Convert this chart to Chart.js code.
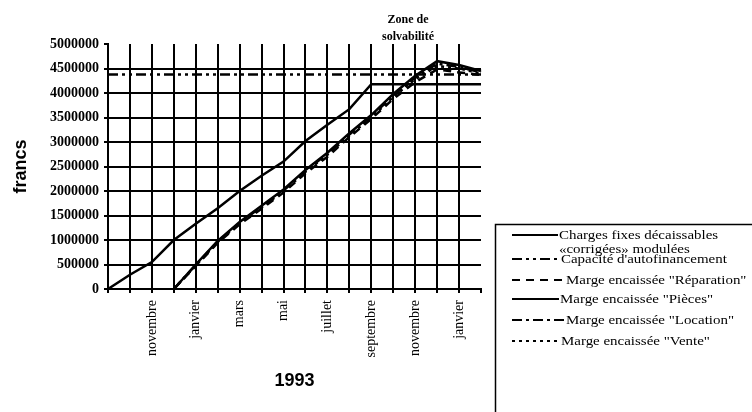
<!DOCTYPE html>
<html lang="fr">
<head>
<meta charset="utf-8">
<title>Zone de solvabilité - 1993</title>
<script src="https://cdn.jsdelivr.net/npm/chart.js@4/dist/chart.umd.min.js"></script>
<style>
  html, body { margin: 0; padding: 0; background: #fff; }
  #wrap { width: 752px; height: 412px; position: relative; }
</style>
</head>
<body>
<div id="wrap"><canvas id="chart" width="752" height="412"></canvas></div>
<script>
/* =========================================================
   Seuil de solvabilité - cumuls mensuels (francs)
   septembre 1992 -> février 1994
========================================================= */

const months = [
  "septembre", "octobre", "novembre", "décembre", "janvier", "février",
  "mars", "avril", "mai", "juin", "juillet", "août",
  "septembre", "octobre", "novembre", "décembre", "janvier", "février"
];

// only every other month is labelled on the axis
const monthTicks = [
  "", "", "novembre", "", "janvier", "", "mars", "", "mai", "",
  "juillet", "", "septembre", "", "novembre", "", "janvier", ""
];

const yMin = 0;
const yMax = 5000000;
const yStep = 500000;

const chargesFixes = [
  0, 290000, 550000, 1000000, 1330000, 1650000, 2000000, 2310000, 2600000,
  3020000, 3350000, 3670000, 4180000, 4180000, 4180000, 4180000, 4180000, 4180000
];

const capaciteAutofinancement = [
  4380000, 4380000, 4380000, 4380000, 4380000, 4380000, 4380000, 4380000, 4380000,
  4380000, 4380000, 4380000, 4380000, 4380000, 4380000, 4380000, 4380000, 4380000
];

const margeReparation = [
  null, null, null, 0, 470000, 940000, 1320000, 1640000, 1970000,
  2360000, 2700000, 3100000, 3470000, 3880000, 4220000, 4480000, 4420000, 4370000
];

const margePieces = [
  null, null, null, 0, 500000, 980000, 1370000, 1700000, 2030000,
  2430000, 2780000, 3180000, 3550000, 3980000, 4350000, 4650000, 4570000, 4450000
];

const margeLocation = [
  null, null, null, 0, 490000, 970000, 1350000, 1680000, 2010000,
  2410000, 2760000, 3150000, 3520000, 3950000, 4310000, 4600000, 4530000, 4420000
];

const margeVente = [
  null, null, null, 0, 480000, 960000, 1340000, 1670000, 2000000,
  2390000, 2740000, 3130000, 3500000, 3920000, 4280000, 4550000, 4500000, 4400000
];

const seriesNames = [
  ["Charges fixes décaissables", "«corrigées» modulées"],
  ["Capacité d'autofinancement"],
  ["Marge encaissée \"Réparation\""],
  ["Marge encaissée \"Pièces\""],
  ["Marge encaissée \"Location\""],
  ["Marge encaissée \"Vente\""]
];

const zoneLabel = ["Zone de", "solvabilité"];

/* ---------- styles ---------- */

const INK = "#000";
const SERIF = "'Liberation Serif', 'Times New Roman', serif";
const SANS = "'Liberation Sans', Arial, sans-serif";

function serie(name, data, dash) {
  return {
    label: name.join(" "),
    data,
    borderColor: INK,
    backgroundColor: INK,
    borderWidth: 2.5,
    borderDash: dash,
    pointRadius: 0,
    tension: 0,
    fill: false
  };
}

// legend rows: sample line + text, laid out like the original boxed legend
const legendRows = [
  { y: 235, x1: 558, tx: 559, lines: [236, 250] },
  { y: 259, x1: 558, tx: 561, lines: [260] },
  { y: 280, x1: 565, tx: 566, lines: [281] },
  { y: 299, x1: 559, tx: 560, lines: [300] },
  { y: 320, x1: 565, tx: 566, lines: [321] },
  { y: 341, x1: 560, tx: 561, lines: [342] }
];

// the scanned legend text is wide for its height
function wideText(ctx, txt, x, y, stretch) {
  ctx.save();
  ctx.translate(x, y);
  ctx.scale(stretch, 1);
  ctx.fillText(txt, 0, 0);
  ctx.restore();
}

const boxedLegend = {
  id: "boxedLegend",
  afterDraw(chart) {
    const ctx = chart.ctx;
    ctx.save();

    ctx.strokeStyle = INK;
    ctx.lineWidth = 1.5;
    ctx.setLineDash([]);
    ctx.strokeRect(495.5, 224.5, 320, 250);

    ctx.font = "13px " + SERIF;
    ctx.fillStyle = INK;
    ctx.textAlign = "left";
    ctx.textBaseline = "middle";

    chart.data.datasets.forEach((ds, i) => {
      const row = legendRows[i];
      ctx.beginPath();
      ctx.lineWidth = 2;
      ctx.setLineDash(ds.borderDash || []);
      ctx.moveTo(512, row.y);
      ctx.lineTo(row.x1, row.y);
      ctx.stroke();
      ctx.setLineDash([]);
      seriesNames[i].forEach((txt, k) => wideText(ctx, txt, row.tx, row.lines[k], 1.15));
    });

    // annotation above the crossing
    ctx.font = "bold 12px " + SERIF;
    ctx.textAlign = "center";
    ctx.fillText(zoneLabel[0], 408, 20);
    ctx.fillText(zoneLabel[1], 408, 37);

    ctx.restore();
  }
};

/* ---------- chart ---------- */

new Chart(document.getElementById("chart"), {
  type: "line",
  data: {
    labels: months,
    datasets: [
      serie(seriesNames[0], chargesFixes, []),
      serie(seriesNames[1], capaciteAutofinancement, [10, 4, 3, 4, 3, 4]),
      serie(seriesNames[2], margeReparation, [8, 6]),
      serie(seriesNames[3], margePieces, []),
      serie(seriesNames[4], margeLocation, [10, 4, 3, 4]),
      serie(seriesNames[5], margeVente, [3, 4])
    ]
  },
  options: {
    responsive: false,
    animation: false,
    layout: { padding: { top: 44, right: 271, bottom: 0, left: 0 } },
    plugins: {
      legend: { display: false },
      tooltip: { enabled: false }
    },
    scales: {
      x: {
        type: "category",
        offset: false,
        afterFit(scale) { scale.height = 123; },
        border: { display: true, color: INK, width: 2 },
        grid: {
          color: c => (c.index === months.length - 1 ? "rgba(0,0,0,0)" : INK),
          tickColor: INK,
          lineWidth: 2,
          tickLength: 4
        },
        ticks: {
          autoSkip: false,
          minRotation: 90,
          maxRotation: 90,
          padding: 7,
          color: INK,
          font: { family: SERIF, size: 14 },
          callback: (v, i) => monthTicks[i]
        },
        title: {
          display: true,
          text: "1993",
          color: INK,
          font: { family: SANS, size: 18, weight: "bold" },
          padding: { top: 0, bottom: 20 }
        }
      },
      y: {
        min: yMin,
        max: yMax,
        afterFit(scale) { scale.width = 108; },
        border: { display: true, color: INK, width: 2 },
        grid: {
          color: c => (c.tick && c.tick.value === yMax ? "rgba(0,0,0,0)" : INK),
          tickColor: INK,
          lineWidth: 2,
          tickLength: 4
        },
        ticks: {
          stepSize: yStep,
          padding: 5,
          color: INK,
          font: { family: SERIF, size: 14, weight: "bold" },
          callback: v => String(v)
        },
        title: {
          display: true,
          text: "francs",
          color: INK,
          font: { family: SANS, size: 18, weight: "bold" },
          padding: { top: 10, bottom: 0 }
        }
      }
    }
  },
  plugins: [boxedLegend]
});
</script>
</body>
</html>
